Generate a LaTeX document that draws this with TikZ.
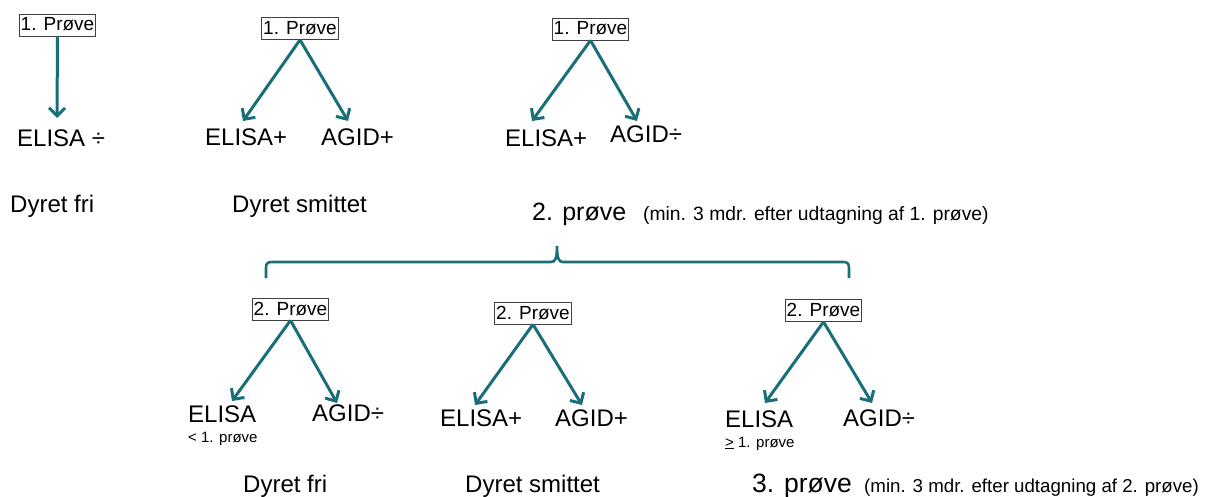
\documentclass[tikz,border=0pt]{standalone}
\usepackage{fontspec}
\setmainfont{Liberation Sans}
\usetikzlibrary{arrows.meta}
\definecolor{tealc}{HTML}{1A6E78}
\begin{document}
\begin{tikzpicture}[x=1pt,y=-1pt,
  lbl/.style={anchor=base west,inner sep=0pt,font=\fontsize{24}{28}\selectfont},
  big/.style={anchor=base west,inner sep=0pt,font=\fontsize{25}{29}\selectfont},
  note/.style={anchor=base west,inner sep=0pt,font=\fontsize{19.3}{23}\selectfont},
  small/.style={anchor=base west,inner sep=0pt,font=\fontsize{15}{18}\selectfont},
  probe/.style={draw=black!75,line width=0.8pt,inner xsep=1.5pt,inner ysep=3pt,
    text height=14pt,text depth=2pt,font=\fontsize{19}{22}\selectfont},
  arr/.style={draw=tealc,line width=3pt,-{Straight Barb[length=8pt,width=16pt]}},
  brace/.style={draw=tealc,line width=2.6pt}]
\useasboundingbox (0,0) rectangle (1206,497);

% ---------- top row ----------
\node[probe] (b1) at (57.5,25) {1. Prøve};
\node[probe] (b2) at (300,28.5) {1. Prøve};
\node[probe] (b3) at (590.5,29) {1. Prøve};

\node[lbl] (e1) at (17,147) {ELISA ÷};
\node[lbl] (d1) at (10,212) {Dyret fri};
\node[lbl] (e2) at (205,146) {ELISA+};
\node[lbl] (a2) at (321,146) {AGID+};
\node[lbl] (d2) at (232,212) {Dyret smittet};
\node[lbl] (e3) at (505,147) {ELISA+};
\node[lbl] (a3) at (610,143) {AGID÷};
\node[big] (p2) at (532,220) {2. prøve};
\node[note] (m2) at (643,220) {(min. 3 mdr. efter udtagning af 1. prøve)};

\coordinate (t1) at (57,118);
\coordinate (t2l) at (243,121);
\coordinate (t2r) at (348,121);
\coordinate (t3l) at (532,121);
\coordinate (t3r) at (637,121);
\draw[arr] (b1.south) -- (t1);
\draw[arr] (b2.south) -- (t2l);
\draw[arr] (b2.south) -- (t2r);
\draw[arr] (b3.south) -- (t3l);
\draw[arr] (b3.south) -- (t3r);

% ---------- brace ----------
\coordinate (brl) at (266,278);
\coordinate (brr) at (849,278);
\coordinate (brt) at (557,246);
\draw[brace] (brl) -- (266,268) .. controls (266,263) and (268,262) .. (272,262)
  -- (551,262) .. controls (555,262) and (557,259) .. (brt)
  .. controls (557,259) and (559,262) .. (563,262)
  -- (843,262) .. controls (847,262) and (849,263) .. (849,268) -- (brr);

% ---------- bottom row ----------
\node[probe] (b4) at (290.5,309) {2. Prøve};
\node[probe] (b5) at (533,313) {2. Prøve};
\node[probe] (b6) at (823.5,310.5) {2. Prøve};

\node[lbl] (e4) at (188,422) {ELISA};
\node[small] (s4) at (188,442) {< 1. prøve};
\node[lbl] (a4) at (312,421) {AGID÷};
\node[lbl] (d4) at (243,492) {Dyret fri};

\node[lbl] (e5) at (440,426) {ELISA+};
\node[lbl] (a5) at (555,426) {AGID+};
\node[lbl] (d5) at (465,492) {Dyret smittet};

\node[lbl] (e6) at (725,427) {ELISA};
\node[small] (s6) at (725,447) {\underline{>} 1. prøve};
\node[lbl] (a6) at (843,426) {AGID÷};
\node[anchor=base west,inner sep=0pt,font=\fontsize{26.5}{30}\selectfont] (p3) at (752,492) {3. prøve};
\node[note,font=\fontsize{18.7}{22}\selectfont] (m3) at (864,492) {(min. 3 mdr. efter udtagning af 2. prøve)};

\coordinate (t4l) at (232,401);
\coordinate (t4r) at (337,403);
\coordinate (t5l) at (475,405);
\coordinate (t5r) at (582,405);
\coordinate (t6l) at (765,403);
\coordinate (t6r) at (872,403);
\draw[arr] (b4.south) -- (t4l);
\draw[arr] (b4.south) -- (t4r);
\draw[arr] (b5.south) -- (t5l);
\draw[arr] (b5.south) -- (t5r);
\draw[arr] (b6.south) -- (t6l);
\draw[arr] (b6.south) -- (t6r);
\end{tikzpicture}
\end{document}
